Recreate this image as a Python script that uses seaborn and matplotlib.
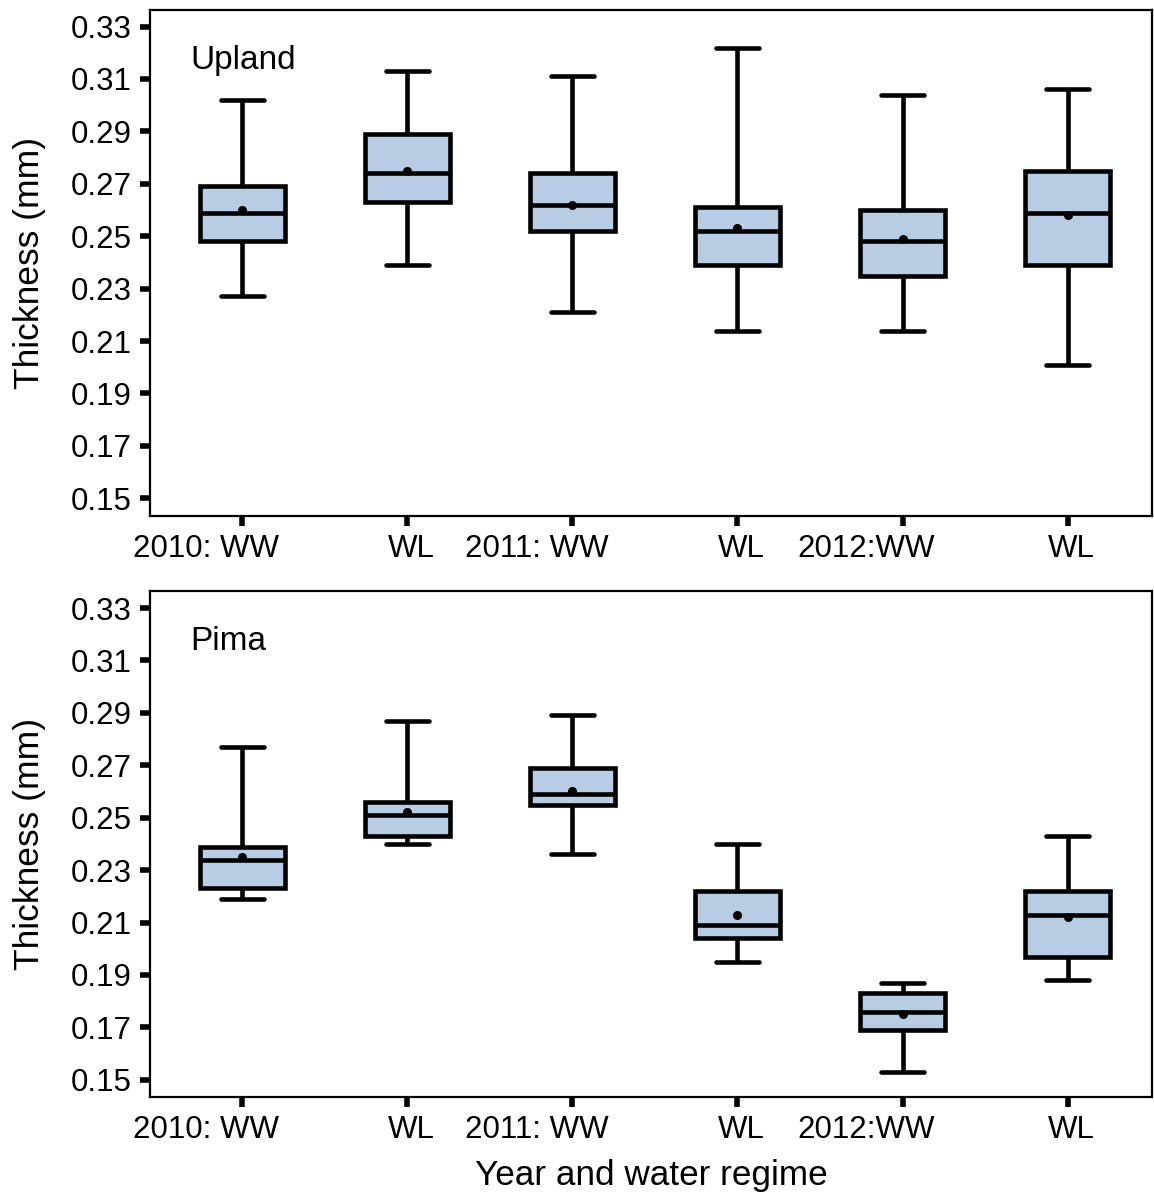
import numpy as np
import pandas as pd
import matplotlib
matplotlib.use('Agg')
import matplotlib.pyplot as plt
import matplotlib.transforms as mtransforms
import seaborn as sns

groups = ['2010 WW', '2010 WL', '2011 WW', '2011 WL', '2012 WW', '2012 WL']
tick_labels = ['2010: WW', 'WL', '2011: WW', 'WL', '2012:WW', 'WL']

# Upland
upland_min = [0.227, 0.239, 0.221, 0.214, 0.214, 0.201]
upland_q1 = [0.248, 0.263, 0.252, 0.239, 0.235, 0.239]
upland_med = [0.259, 0.274, 0.262, 0.252, 0.248, 0.259]
upland_q3 = [0.269, 0.289, 0.274, 0.261, 0.260, 0.275]
upland_max = [0.302, 0.313, 0.311, 0.322, 0.304, 0.306]
upland_mean = [0.260, 0.275, 0.262, 0.253, 0.249, 0.258]

# Pima
pima_min = [0.219, 0.240, 0.236, 0.195, 0.153, 0.188]
pima_q1 = [0.223, 0.243, 0.255, 0.204, 0.169, 0.197]
pima_med = [0.234, 0.251, 0.259, 0.209, 0.176, 0.213]
pima_q3 = [0.239, 0.256, 0.269, 0.222, 0.183, 0.222]
pima_max = [0.277, 0.287, 0.289, 0.240, 0.187, 0.243]
pima_mean = [0.235, 0.252, 0.260, 0.213, 0.175, 0.212]

yticks = [0.15, 0.17, 0.19, 0.21, 0.23, 0.25, 0.27, 0.29, 0.31, 0.33]

sns.set_style('ticks')
plt.rcParams['font.family'] = ['Liberation Sans', 'DejaVu Sans']
plt.rcParams['text.color'] = 'black'
plt.rcParams['axes.labelcolor'] = 'black'

fill = '#b8cce4'


def draw_panel(ax, name, mins, q1, med, q3, maxs, means, fig):
    # five values per group give exactly min / q1 / median / q3 / max
    df = pd.DataFrame({
        'group': np.repeat(groups, 5),
        'value': np.column_stack([mins, q1, med, q3, maxs]).ravel(),
    })
    sns.boxplot(data=df, x='group', y='value', order=groups, whis=(0, 100),
                color=fill, saturation=1, linecolor='black', linewidth=3.3,
                width=0.52, showfliers=False, ax=ax)
    mean_df = pd.DataFrame({'group': groups, 'value': means})
    sns.stripplot(data=mean_df, x='group', y='value', order=groups, jitter=False,
                  color='black', size=6.5, zorder=5, ax=ax)

    ax.set_xlim(-0.56, 5.51)
    ax.set_ylim(0.1433, 0.3365)
    ax.set_yticks(yticks)
    ax.set_yticklabels([f'{t:.2f}' for t in yticks])
    ax.set_xticks(range(len(groups)))
    ax.set_xticklabels(tick_labels)

    for s in ax.spines.values():
        s.set_visible(True)
        s.set_linewidth(1.6)
        s.set_color('black')
    ax.tick_params(direction='out', length=7, width=4, labelsize=22.5, pad=6,
                   colors='black')

    # year labels sit left of their tick in the original
    for i, lab in enumerate(ax.get_xticklabels()):
        dx = -0.36 if ':' in tick_labels[i] else 0.04
        off = mtransforms.ScaledTranslation(dx, 0, fig.dpi_scale_trans)
        lab.set_transform(lab.get_transform() + off)

    ax.set_ylabel('Thickness (mm)', fontsize=25.5)
    ax.yaxis.set_label_coords(-0.104, 0.5)
    ax.set_xlabel('')
    ax.text(0.04, 0.90, name, transform=ax.transAxes, fontsize=24,
            va='center', ha='left')


fig = plt.figure(figsize=(11.54, 11.94), dpi=100)
ax1 = fig.add_axes([0.130, 0.568, 0.868, 0.424])
ax2 = fig.add_axes([0.130, 0.081, 0.868, 0.424])

draw_panel(ax1, 'Upland', upland_min, upland_q1, upland_med, upland_q3,
           upland_max, upland_mean, fig)
draw_panel(ax2, 'Pima', pima_min, pima_q1, pima_med, pima_q3,
           pima_max, pima_mean, fig)
ax2.set_xlabel('Year and water regime', fontsize=25.3, labelpad=10)

fig.savefig('out.png', dpi=100)
